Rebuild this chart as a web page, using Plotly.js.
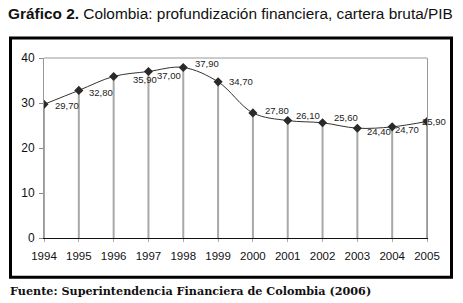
<!DOCTYPE html>
<html>
<head>
<meta charset="utf-8">
<script src="https://cdn.plot.ly/plotly-3.0.1.min.js"></script>
<style>html,body{margin:0;padding:0;background:#fff;}#chart{width:463px;height:303px;}</style>
</head>
<body>
<div id="chart"></div>
<script>
// Data
const years = [1994, 1995, 1996, 1997, 1998, 1999, 2000, 2001, 2002, 2003, 2004, 2005];
const values = [29.70, 32.80, 35.90, 37.00, 37.90, 34.70, 27.80, 26.10, 25.60, 24.40, 24.70, 25.90];
const yTicks = [0, 10, 20, 30, 40];

// Label offset styling (pixels): [xshift, yshift]
const labelShift = [[9,-1],[8,-2],[17,-3.5],[7,-4],[10,3.5],[9,0],[10,2],[6,5],[9,5],[8,-3.5],[1,-3],[-7,0]];

const fmt = v => v.toFixed(2).replace('.', ',');

// drop lines built from data
const dx = [], dy = [];
years.forEach((yr, i) => { dx.push(yr, yr, null); dy.push(0, values[i], null); });

const traces = [
  {x: dx, y: dy, mode: 'lines', line: {color: '#a8a8a8', width: 2}, hoverinfo: 'skip', showlegend: false},
  {x: years, y: values, mode: 'lines+markers', line: {color: '#333', width: 1, shape: 'spline', smoothing: 1},
   marker: {symbol: 'diamond', size: 7, color: '#2a2a2a'}, showlegend: false}
];

const W = 383, H = 179.7;
const annotations = years.map((yr, i) => ({
  x: yr, y: values[i], xref: 'x', yref: 'y', text: fmt(values[i]), showarrow: false,
  xanchor: 'left', yanchor: 'middle', xshift: labelShift[i][0], yshift: labelShift[i][1],
  font: {family: 'Liberation Sans, Arial, sans-serif', size: 9.5, color: '#222'}
}));
annotations.push({
  xref: 'paper', yref: 'paper', x: (8 - 44) / W, y: (237.7 - 291) / H, xanchor: 'left', yanchor: 'middle',
  showarrow: false, text: '<b>Fuente: Superintendencia Financiera de Colombia (2006)</b>',
  font: {family: 'DejaVu Serif, serif', size: 11.2, color: '#111'}
});

const layout = {
  width: 463, height: 303,
  margin: {l: 44, r: 36, t: 58, b: 65.3},
  paper_bgcolor: '#fff', plot_bgcolor: '#fff',
  title: {text: '<b>Gráfico 2.</b> Colombia: profundización financiera, cartera bruta/PIB',
          x: 8 / 463, xanchor: 'left', xref: 'container', y: 1 - 14 / 303, yanchor: 'middle', yref: 'container',
          font: {family: 'Liberation Sans, Arial, sans-serif', size: 15.4, color: '#111'}},
  xaxis: {range: [1994, 2005], tickvals: years, ticktext: years.map(String), showgrid: false, zeroline: false,
          showline: true, linecolor: '#111', linewidth: 1, ticks: 'outside', ticklen: 3, tickcolor: '#aaa',
          ticklabelstandoff: 4,
          tickfont: {family: 'Liberation Sans, Arial, sans-serif', size: 11.5, color: '#111'}, fixedrange: true},
  yaxis: {range: [0, 40], tickvals: yTicks, showgrid: false, zeroline: false, showline: true, linecolor: '#999',
          linewidth: 1, mirror: true, ticks: 'outside', ticklen: 4, tickcolor: '#888', ticklabelstandoff: 2,
          tickfont: {family: 'Liberation Sans, Arial, sans-serif', size: 12, color: '#111'}, fixedrange: true},
  shapes: [
    {type: 'line', xref: 'paper', yref: 'paper', x0: 0, x1: 1, y0: 1, y1: 1, line: {color: '#999', width: 1}},
    {type: 'rect', xref: 'paper', yref: 'paper', x0: (10.5 - 44) / W, x1: (451.5 - 44) / W,
     y0: (237.7 - 277) / H, y1: (237.7 - 38) / H, line: {color: '#000', width: 3}, fillcolor: 'rgba(0,0,0,0)', layer: 'below'}
  ],
  annotations: annotations,
  showlegend: false
};

Plotly.newPlot('chart', traces, layout, {staticPlot: true, displayModeBar: false});
</script>
</body>
</html>
